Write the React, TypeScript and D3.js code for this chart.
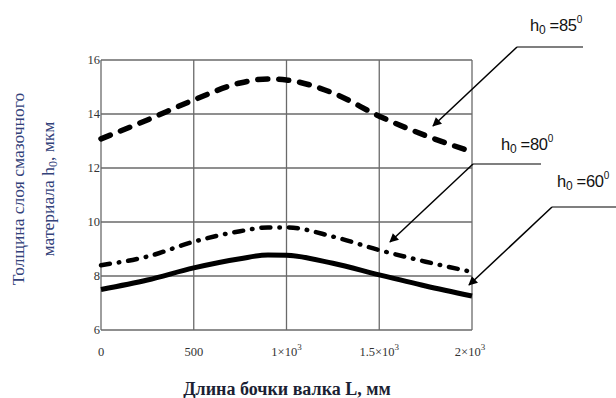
import * as d3 from "d3";
import { useEffect, useRef } from "react";

// длина бочки валка, мм
const lengths = [0, 250, 500, 750, 900, 1000, 1250, 1500, 1750, 2000];
// толщина слоя, мкм
const h85 = [13.08, 13.78, 14.52, 15.15, 15.3, 15.26, 14.78, 13.92, 13.2, 12.6];
const h80 = [8.4, 8.72, 9.27, 9.66, 9.8, 9.8, 9.46, 8.96, 8.53, 8.15];
const h60 = [7.5, 7.85, 8.3, 8.64, 8.78, 8.77, 8.47, 8.04, 7.63, 7.26];

const xTicks = [0, 500, 1000, 1500, 2000];
const xTickLabels = ["0", "500", "1×10", "1.5×10", "2×10"];
const yTicks = [6, 8, 10, 12, 14, 16];
const seriesLabels = ["85", "80", "60"];

const App = () => {
  const ref = useRef<SVGSVGElement>(null);

  useEffect(() => {
    const svg = d3.select(ref.current);
    svg.selectAll("*").remove();

    const x = d3.scaleLinear().domain([0, 2000]).range([101, 472]);
    const y = d3.scaleLinear().domain([6, 16]).range([330, 60]);

    // сетка
    const grid = svg.append("g").attr("stroke", "#6a6a6a").attr("stroke-width", 1.3);
    yTicks.forEach((t) => {
      grid.append("line").attr("x1", x(0)).attr("x2", x(2000)).attr("y1", y(t)).attr("y2", y(t));
    });
    xTicks.forEach((t) => {
      grid.append("line").attr("x1", x(t)).attr("x2", x(t)).attr("y1", y(6)).attr("y2", y(16));
    });

    // подписи осей
    const tickFont = "'Liberation Serif', 'Times New Roman', serif";
    yTicks.forEach((t) => {
      svg.append("text")
        .attr("x", x(0) - 1)
        .attr("y", y(t) + 4)
        .attr("text-anchor", "end")
        .attr("font-family", tickFont)
        .attr("font-size", 12.5)
        .attr("fill", "#333")
        .text(t);
    });
    xTicks.forEach((t, i) => {
      const tx = svg.append("text")
        .attr("x", x(t) + (i === 4 ? -2 : 0))
        .attr("y", 356)
        .attr("text-anchor", "middle")
        .attr("font-family", tickFont)
        .attr("font-size", 12.5)
        .attr("fill", "#333");
      tx.append("tspan").text(xTickLabels[i]);
      if (i >= 2) tx.append("tspan").attr("dy", -6).attr("font-size", 9).text("3");
    });

    // кривые
    const line = d3.line<number>()
      .x((_, i) => x(lengths[i]))
      .y((d) => y(d))
      .curve(d3.curveMonotoneX);

    svg.append("path").datum(h60).attr("d", line)
      .attr("fill", "none").attr("stroke", "#000").attr("stroke-width", 5);
    svg.append("path").datum(h80).attr("d", line)
      .attr("fill", "none").attr("stroke", "#000").attr("stroke-width", 4.5)
      .attr("stroke-linecap", "round").attr("stroke-dasharray", "9 9 0.5 9");
    svg.append("path").datum(h85).attr("d", line)
      .attr("fill", "none").attr("stroke", "#000").attr("stroke-width", 5.5)
      .attr("stroke-linecap", "round").attr("stroke-dasharray", "10 11");

    // выноски
    svg.append("defs").append("marker")
      .attr("id", "arr").attr("viewBox", "0 0 10 10").attr("refX", 9).attr("refY", 5)
      .attr("markerWidth", 11).attr("markerHeight", 9).attr("orient", "auto")
      .attr("markerUnits", "userSpaceOnUse")
      .append("path").attr("d", "M0,0 L10,5 L0,10 z").attr("fill", "#000");

    const callouts = [
      { lx: 530, ly: 31, hx1: 517, hx2: 583, hy: 47, ax: 433, ay: 126 },
      { lx: 501, ly: 150, hx1: 473, hx2: 541, hy: 164, ax: 390, ay: 242 },
      { lx: 557, ly: 187, hx1: 552, hx2: 616, hy: 207, ax: 469, ay: 285 },
    ];
    callouts.forEach((c, i) => {
      svg.append("line").attr("x1", c.hx1).attr("x2", c.hx2).attr("y1", c.hy).attr("y2", c.hy)
        .attr("stroke", "#000").attr("stroke-width", 1.2);
      svg.append("line").attr("x1", c.hx1).attr("y1", c.hy).attr("x2", c.ax).attr("y2", c.ay)
        .attr("stroke", "#000").attr("stroke-width", 1.5).attr("marker-end", "url(#arr)");
      const t = svg.append("text").attr("x", c.lx).attr("y", c.ly)
        .attr("font-family", "'Liberation Sans', Arial, sans-serif")
        .attr("font-size", 16.5).attr("fill", "#111").attr("letter-spacing", -0.3);
      t.append("tspan").text("h");
      t.append("tspan").attr("font-size", 12).attr("dy", 3).text("0");
      t.append("tspan").attr("dy", -3).text(" =" + seriesLabels[i]);
      t.append("tspan").attr("font-size", 10).attr("dy", -8).text("0");
    });

    // названия осей
    const titleColor = "#33427a";
    svg.append("text")
      .attr("x", 287).attr("y", 395).attr("text-anchor", "middle")
      .attr("font-family", tickFont).attr("font-size", 18).attr("font-weight", "bold")
      .attr("fill", "#1c1f33")
      .text("Длина бочки валка L, мм");

    const yt = svg.append("g").attr("transform", "translate(24,189) rotate(-90)");
    yt.append("text").attr("text-anchor", "middle")
      .attr("font-family", tickFont).attr("font-size", 17.5).attr("fill", titleColor)
      .text("Толщина слоя смазочного");
    const t2 = yt.append("text").attr("y", 30).attr("text-anchor", "middle")
      .attr("font-family", tickFont).attr("font-size", 17.5).attr("fill", titleColor);
    t2.append("tspan").text("материала h");
    t2.append("tspan").attr("font-size", 12).attr("dy", 3).text("0");
    t2.append("tspan").attr("dy", -3).text(", мкм");
  }, []);

  return (
    <svg
      ref={ref}
      width={616}
      height={398}
      style={{ position: "absolute", left: 0, top: 0, background: "#fff" }}
    />
  );
};

export default App;
